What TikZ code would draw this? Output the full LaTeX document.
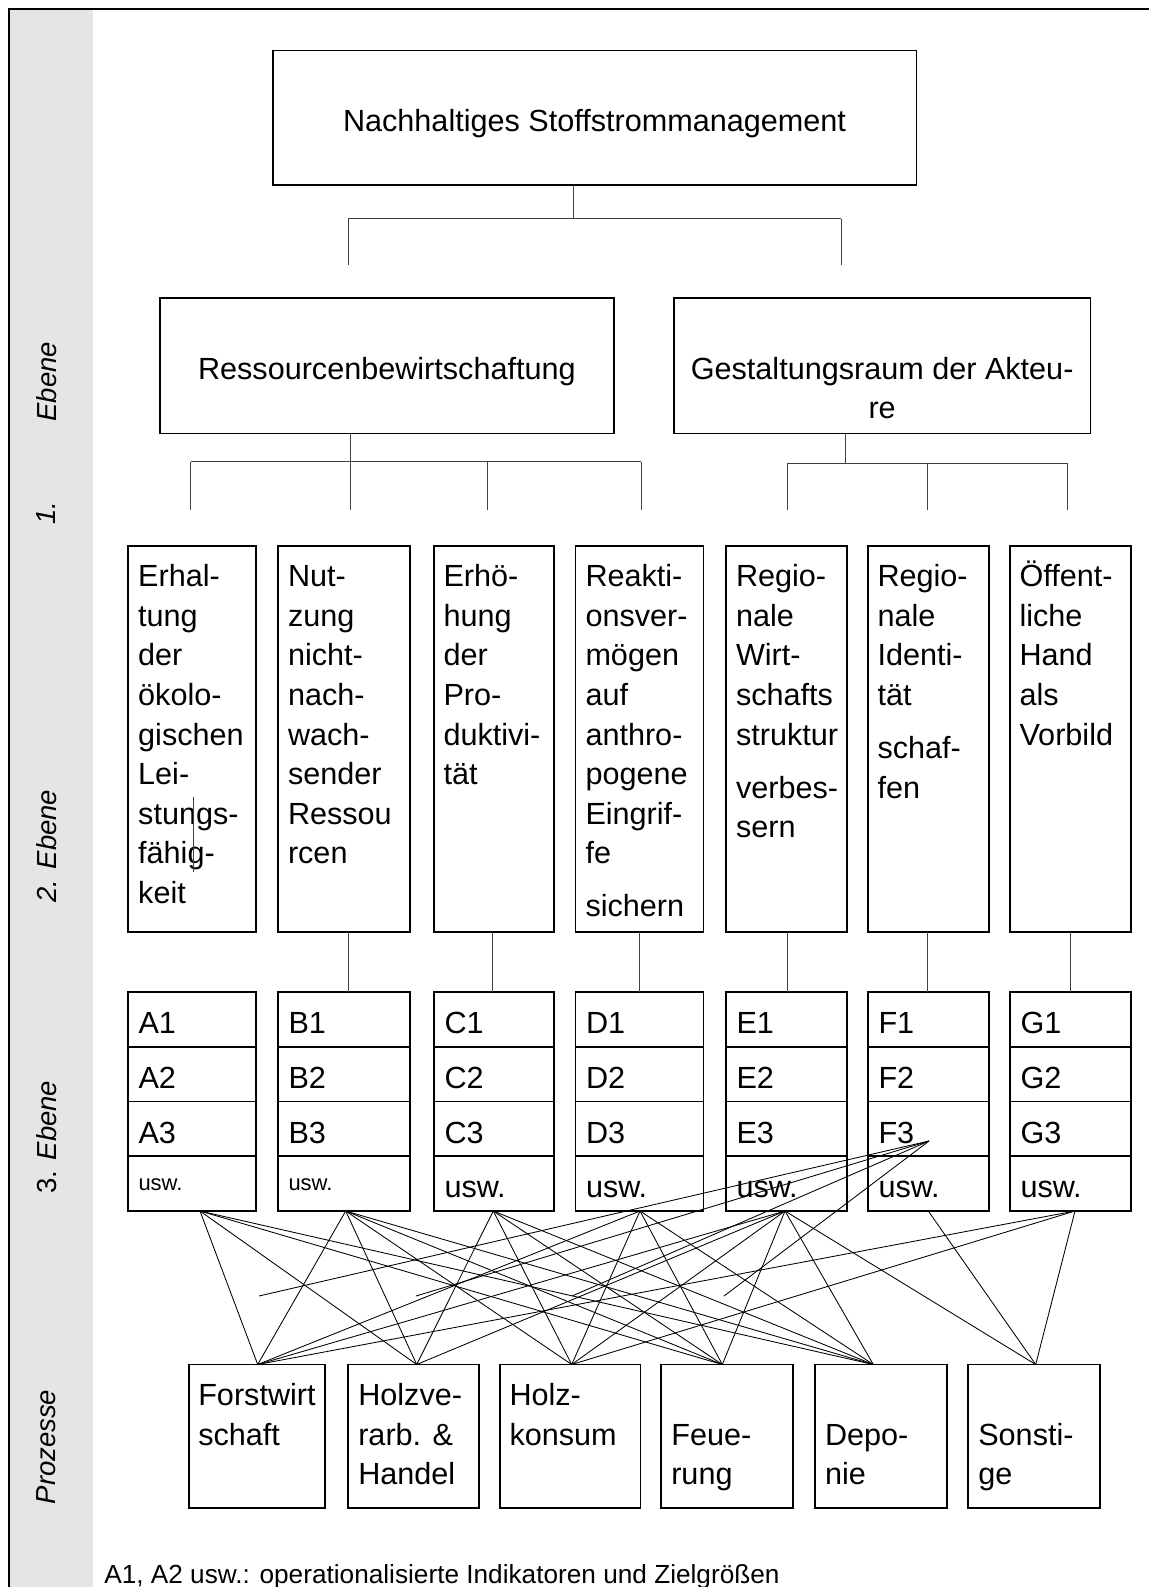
\documentclass[tikz,border=0pt]{standalone}
\usepackage{fontspec}
\setmainfont{Liberation Sans}
\newcommand\colstack[1]{\begin{tabular}[t]{@{}l@{}}#1\end{tabular}}
\newcommand\ctrstack[1]{\begin{tabular}[t]{@{}c@{}}#1\end{tabular}}
\begin{document}
\begin{tikzpicture}[x=1pt,y=-1pt,
  box/.style={draw, line width=1.6pt, inner sep=0pt, outer sep=0pt},
  orgline/.style={draw=black!75, line width=0.9pt},
  xline/.style={draw=black, line width=0.85pt},
  txt/.style={inner sep=0pt, outer sep=0pt, font=\fontsize{30.6}{39.6}\selectfont},
  small/.style={inner sep=0pt, outer sep=0pt, font=\fontsize{22}{26}\selectfont},
  side/.style={inner sep=0pt, outer sep=0pt, rotate=90, font=\fontsize{27.5}{33}\selectfont\itshape},
  foot/.style={inner sep=0pt, outer sep=0pt, font=\fontsize{26.2}{31}\selectfont},
]
\useasboundingbox (0,0) rectangle (1149,1587);
% background band and frame
\fill[black!10] (9,9) rectangle (92.7,1587);
\draw[line width=1.3pt] (9,1587) -- (9,9) -- (1149,9);

% side labels
\node[side] (lab1a) at (46.5,381.7) {Ebene};
\node[side] (lab1b) at (46.5,513) {1.};
\node[side] (lab2) at (46.5,846) {2. Ebene};
\node[side] (lab3) at (46.5,1137) {\upshape 3. \itshape Ebene};
\node[side] (lab4) at (46.5,1447) {Prozesse};

% top level
\node[box, minimum width=643.6pt, minimum height=134.3pt] (top) at (594.5,117.85) {};
\node[txt, anchor=base] (toptxt) at (594.5,131.7) {Nachhaltiges Stoffstrommanagement};

% first level
\node[box, minimum width=454.3pt, minimum height=135.6pt] (res) at (386.85,365.5) {};
\node[txt, anchor=base] (restxt) at (386.85,379) {Ressourcenbewirtschaftung};
\node[box, minimum width=416.3pt, minimum height=135.6pt] (ges) at (882.15,365.5) {};
\node[txt, anchor=base] (gestxt) at (882.15,379) {\ctrstack{Gestaltungsraum der Akteu-\\re}};

% org connectors top
\coordinate (tj) at (573,218.7);
\coordinate (tl) at (348,218.7);
\coordinate (tr) at (841.3,218.7);
\coordinate (tle) at (348,265);
\coordinate (tre) at (841.3,265);
\draw[orgline] (top.south -| tj) -- (tj);
\draw[orgline] (tl) -- (tr);
\draw[orgline] (tl) -- (tle);
\draw[orgline] (tr) -- (tre);

% org connectors left
\coordinate (lj) at (350,461.7);
\coordinate (ll) at (190.7,461.7);
\coordinate (lr) at (641,461.7);
\draw[orgline] (res.south -| lj) -- (lj);
\draw[orgline] (ll) -- (lr);
\foreach \x [count=\i] in {190.7,350,487.7,641}{
  \coordinate (lv\i) at (\x,461.7);
  \coordinate (lw\i) at (\x,510);
  \draw[orgline] (lv\i) -- (lw\i);
}
% org connectors right
\coordinate (rj) at (845,463.3);
\coordinate (rl) at (787,463.3);
\coordinate (rr) at (1067.7,463.3);
\draw[orgline] (ges.south -| rj) -- (rj);
\draw[orgline] (rl) -- (rr);
\foreach \x [count=\i] in {787,927.3,1067.7}{
  \coordinate (rv\i) at (\x,463.3);
  \coordinate (rw\i) at (\x,510);
  \draw[orgline] (rv\i) -- (rw\i);
}

% second and third level boxes
\foreach \n/\l/\c/\w in {A/128/192/128, B/278/344/132, C/434/494/120, D/575.5/639.5/128, E/726/786.5/121, F/868/928.5/121, G/1010/1070.5/121}{
  \node[box, minimum width=\w pt, minimum height=386pt] (z\n) at (\c,739) {};
  \node[box, minimum width=\w pt, minimum height=54.75pt] (\n1) at (\c,1019.375) {};
  \node[box, minimum width=\w pt, minimum height=54.75pt] (\n2) at (\c,1074.125) {};
  \node[box, minimum width=\w pt, minimum height=54.75pt] (\n3) at (\c,1128.875) {};
  \node[box, minimum width=\w pt, minimum height=54.75pt] (\n4) at (\c,1183.625) {};
  \node[txt, anchor=base west] (t\n1) at (\l+10.5,1033.3) {\n1};
  \node[txt, anchor=base west] (t\n2) at (\l+10.5,1088.3) {\n2};
  \node[txt, anchor=base west] (t\n3) at (\l+10.5,1143.2) {\n3};
}
\node[small, anchor=base west] (tA4) at (138.5,1190.3) {usw.};
\node[small, anchor=base west] (tB4) at (288.5,1190.3) {usw.};
\foreach \n/\l in {C/434, D/575.5, E/726, F/868, G/1010}{
  \node[txt, anchor=base west] (t\n4) at (\l+10.5,1197.5) {usw.};
}

% second level texts
\node[txt, anchor=base west] (xA) at (138.2,586.7) {\colstack{Erhal-\\tung\\der\\ökolo-\\gischen\\Lei-\\stungs-\\fähig-\\keit}};
\node[txt, anchor=base west] (xB) at (288,586.7) {\colstack{Nut-\\zung\\nicht-\\nach-\\wach-\\sender\\Ressou\\rcen}};
\node[txt, anchor=base west] (xC) at (443.5,586.7) {\colstack{Erhö-\\hung\\der\\Pro-\\duktivi-\\tät}};
\node[txt, anchor=base west] (xD) at (585.5,586.7) {\colstack{Reakti-\\onsver-\\mögen\\auf\\anthro-\\pogene\\Eingrif-\\fe\\[13.3pt]sichern}};
\node[txt, anchor=base west] (xE) at (736,586.7) {\colstack{Regio-\\nale\\Wirt-\\schafts\\struktur\\[13.3pt]verbes-\\sern}};
\node[txt, anchor=base west] (xF) at (877.5,586.7) {\colstack{Regio-\\nale\\Identi-\\tät\\[13.3pt]schaf-\\fen}};
\node[txt, anchor=base west] (xG) at (1019.5,586.7) {\colstack{Öffent-\\liche\\Hand\\als\\Vorbild}};

% level 2 -> level 3 connectors
\foreach \n/\x in {B/348.9, C/492, D/639.2, E/787.7, F/927.5, G/1070.7}{
  \draw[orgline] (z\n.south -| \x,0) -- (\n1.north -| \x,0);
}
\coordinate (strayA) at (193.7,796.7);
\coordinate (strayB) at (193.7,871.7);
\draw[orgline] (strayA) -- (strayB);

% process boxes
\foreach \n/\c/\w in {1/256.85/136.3, 2/413.35/131.3, 3/570.1/140.8, 4/726.85/132.3, 5/880.7/132, 6/1033.85/132.3}{
  \node[box, minimum width=\w pt, minimum height=143.5pt] (p\n) at (\c,1436.25) {};
}
\node[txt, anchor=base west] (pt1) at (198.3,1405.7) {\colstack{Forstwirt\\schaft}};
\node[txt, anchor=base west] (pt2) at (358.3,1405.7) {\colstack{Holzve-\\rarb. \&\\Handel}};
\node[txt, anchor=base west] (pt3) at (509.5,1405.7) {\colstack{Holz-\\konsum}};
\node[txt, anchor=base west] (pt4) at (671.3,1445.3) {\colstack{Feue-\\rung}};
\node[txt, anchor=base west] (pt5) at (825,1445.3) {\colstack{Depo-\\nie}};
\node[txt, anchor=base west] (pt6) at (978.3,1445.3) {\colstack{Sonsti-\\ge}};

% cross connectors
\foreach \n/\x in {A/200, B/345.7, C/493.3, D/640, E/785, F/928.3, G/1075}{
  \coordinate (o\n) at (\n4.south -| \x,0);
}
\foreach \n/\x in {1/257.7, 2/416.7, 3/571.7, 4/722.3, 5/873.3, 6/1035.7}{
  \coordinate (e\n) at (p\n.north -| \x,0);
}
\foreach \a/\b in {oA/e1, oA/e2, oA/e4, oA/e5,
                   oB/e1, oB/e2, oB/e3, oB/e4, oB/e5,
                   oC/e2, oC/e3, oC/e4, oC/e5,
                   oD/e1, oD/e3, oD/e4, oD/e5,
                   oE/e1, oE/e2, oE/e3, oE/e4, oE/e5, oE/e6,
                   oF/e6,
                   oG/e1, oG/e3, oG/e6}{
  \draw[xline] (\a) -- (\b);
}
% displaced lines from F3
\coordinate (fp) at (929,1141);
\foreach \x [count=\i] in {259,416,572,724}{
  \coordinate (fs\i) at (\x,1296);
  \draw[xline] (fp) -- (fs\i);
}

% footnote
\node[foot, anchor=base west] (foot) at (104.3,1583.7) {A1, A2 usw.: operationalisierte Indikatoren und Zielgrößen};
\end{tikzpicture}
\end{document}
